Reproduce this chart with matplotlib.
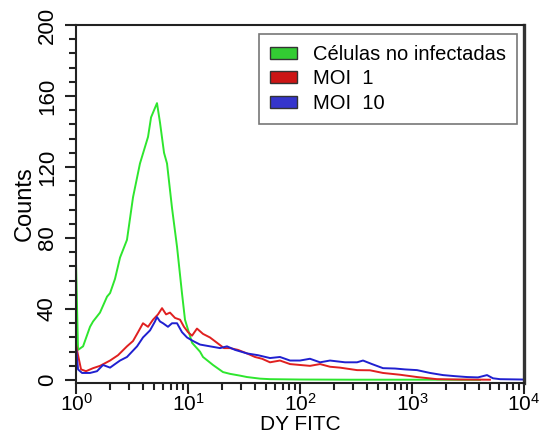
import numpy as np
import matplotlib
matplotlib.use("Agg")
import matplotlib.pyplot as plt
from matplotlib.patches import Patch
from matplotlib.ticker import FixedLocator, LogLocator, NullFormatter, MultipleLocator

# channel positions in decades (log10 of DY FITC) and counts
green_log = [0.0, 0.018, 0.063, 0.125, 0.152, 0.214, 0.277, 0.304, 0.348, 0.393, 0.455,
             0.509, 0.571, 0.643, 0.67, 0.723, 0.75, 0.786, 0.8125, 0.857, 0.902, 0.946,
             0.973, 1.036, 1.107, 1.134, 1.223, 1.3125, 1.375, 1.464, 1.527, 1.643, 1.732,
             2.0, 2.446, 3.25, 3.607]
green_counts = [66, 17, 19, 30, 33, 38, 47, 49, 57, 69, 79,
                103, 122, 137, 148, 156, 145, 128, 122, 97, 75, 49,
                34, 21, 16, 13, 8.5, 4.5, 3.5, 2.5, 1.7, 0.8, 0.5,
                0.3, 0.2, 0.2, 0.1]

red_log = [0.0, 0.018, 0.045, 0.089, 0.152, 0.214, 0.304, 0.375, 0.455, 0.509, 0.554,
           0.598, 0.643, 0.6875, 0.732, 0.768, 0.804, 0.839, 0.884, 0.929, 0.964, 1.0,
           1.036, 1.08, 1.134, 1.196, 1.259, 1.321, 1.375, 1.446, 1.527, 1.598, 1.661,
           1.732, 1.821, 1.911, 2.0, 2.089, 2.179, 2.268, 2.357, 2.509, 2.625, 2.741,
           2.893, 3.045, 3.223, 3.429, 3.696]
red_counts = [20, 14, 6, 5, 6.7, 8, 11, 14, 19, 22, 27,
              32, 30, 34, 37, 40.5, 37, 38, 35, 34, 30, 27,
              25, 29, 26, 24, 21, 18, 18, 17, 15, 13, 12,
              10, 11, 9, 8.5, 8, 9, 7.5, 7, 5.6, 5.5, 4,
              3, 1.7, 0.5, 0.3, 0.2]

blue_log = [0.0, 0.018, 0.054, 0.125, 0.1875, 0.241, 0.304, 0.348, 0.393, 0.455, 0.5,
            0.545, 0.598, 0.661, 0.705, 0.723, 0.75, 0.777, 0.821, 0.857, 0.902, 0.946,
            0.991, 1.045, 1.107, 1.196, 1.286, 1.348, 1.42, 1.527, 1.625, 1.732, 1.821,
            1.911, 2.0, 2.089, 2.179, 2.268, 2.402, 2.509, 2.5625, 2.643, 2.741, 2.848,
            2.9375, 3.045, 3.161, 3.277, 3.384, 3.491, 3.589, 3.67, 3.723, 3.786, 3.991]
blue_counts = [19, 6, 4, 4, 5, 8.5, 7, 9, 11, 13, 16,
               19, 24, 28, 33, 35.5, 33, 32, 30, 32, 32, 27,
               24, 22, 20, 19, 18, 19, 17, 15, 14, 12.4, 13,
               11, 11, 12, 10, 11, 10, 10, 11, 9, 6.7, 6.5,
               6, 5.6, 4, 2.8, 2.2, 1.7, 1.5, 2.8, 1, 0.5, 0.3]

labels = ["Células no infectadas", "MOI  1", "MOI  10"]
line_colors = ["#2ee62e", "#e02020", "#2020d0"]
patch_colors = ["#33cc33", "#cc1515", "#3535cc"]

plt.rcParams['font.family'] = ['Liberation Sans', 'DejaVu Sans']
plt.rcParams['mathtext.fontset'] = 'custom'
plt.rcParams['mathtext.rm'] = 'Liberation Sans'
plt.rcParams['mathtext.it'] = 'Liberation Sans'

fig = plt.figure(figsize=(5.43, 4.47), dpi=100)
ax = fig.add_axes([0.140, 0.143, 0.825, 0.801])

series = [(green_log, green_counts), (red_log, red_counts), (blue_log, blue_counts)]
for (lg, cnt), col in zip(series, line_colors):
    ax.plot(10 ** np.array(lg), cnt, color=col, lw=1.4, zorder=2)

ax.set_xscale('log')
ax.set_xlim(1, 1e4)
ax.set_ylim(-1.7, 200)

ax.xaxis.set_major_locator(FixedLocator([1, 10, 100, 1000, 10000]))
ax.set_xticklabels([r'$10^{0}$', r'$10^{1}$', r'$10^{2}$', r'$10^{3}$', r'$10^{4}$'])
ax.xaxis.set_minor_locator(LogLocator(base=10, subs=np.arange(2, 10)))
ax.xaxis.set_minor_formatter(NullFormatter())

ax.yaxis.set_major_locator(MultipleLocator(40))
ax.yaxis.set_minor_locator(MultipleLocator(8))

ax.tick_params(axis='both', which='major', direction='out', length=8, width=1.5, color='#222222')
ax.tick_params(axis='both', which='minor', direction='out', length=5, width=1.5, color='#222222')
ax.tick_params(axis='x', which='major', labelsize=15, pad=-1)
ax.tick_params(axis='y', which='major', labelsize=16, pad=5, labelrotation=90)
plt.setp(ax.get_yticklabels(), va='center')
ax.tick_params(top=False, right=False)

for side in ['top', 'left', 'bottom']:
    ax.spines[side].set_linewidth(1.5)
    ax.spines[side].set_color('#222222')
ax.spines['right'].set_linewidth(2.4)
ax.spines['right'].set_color('#333333')

ax.set_ylabel('Counts', fontsize=17, labelpad=1)
ax.set_xlabel('DY FITC', fontsize=15, labelpad=0)

handles = [Patch(facecolor=c, edgecolor='#333333', lw=1.0) for c in patch_colors]
leg = ax.legend(handles, labels, loc='upper right', bbox_to_anchor=(0.984, 0.975),
                fontsize=14.5, frameon=True, fancybox=False, edgecolor='#555555',
                handlelength=1.3, handleheight=0.55, handletextpad=0.8,
                labelspacing=0.27, borderpad=0.55, borderaxespad=0.0)
leg.get_frame().set_linewidth(1.2)

fig.savefig('out.png', dpi=100)
